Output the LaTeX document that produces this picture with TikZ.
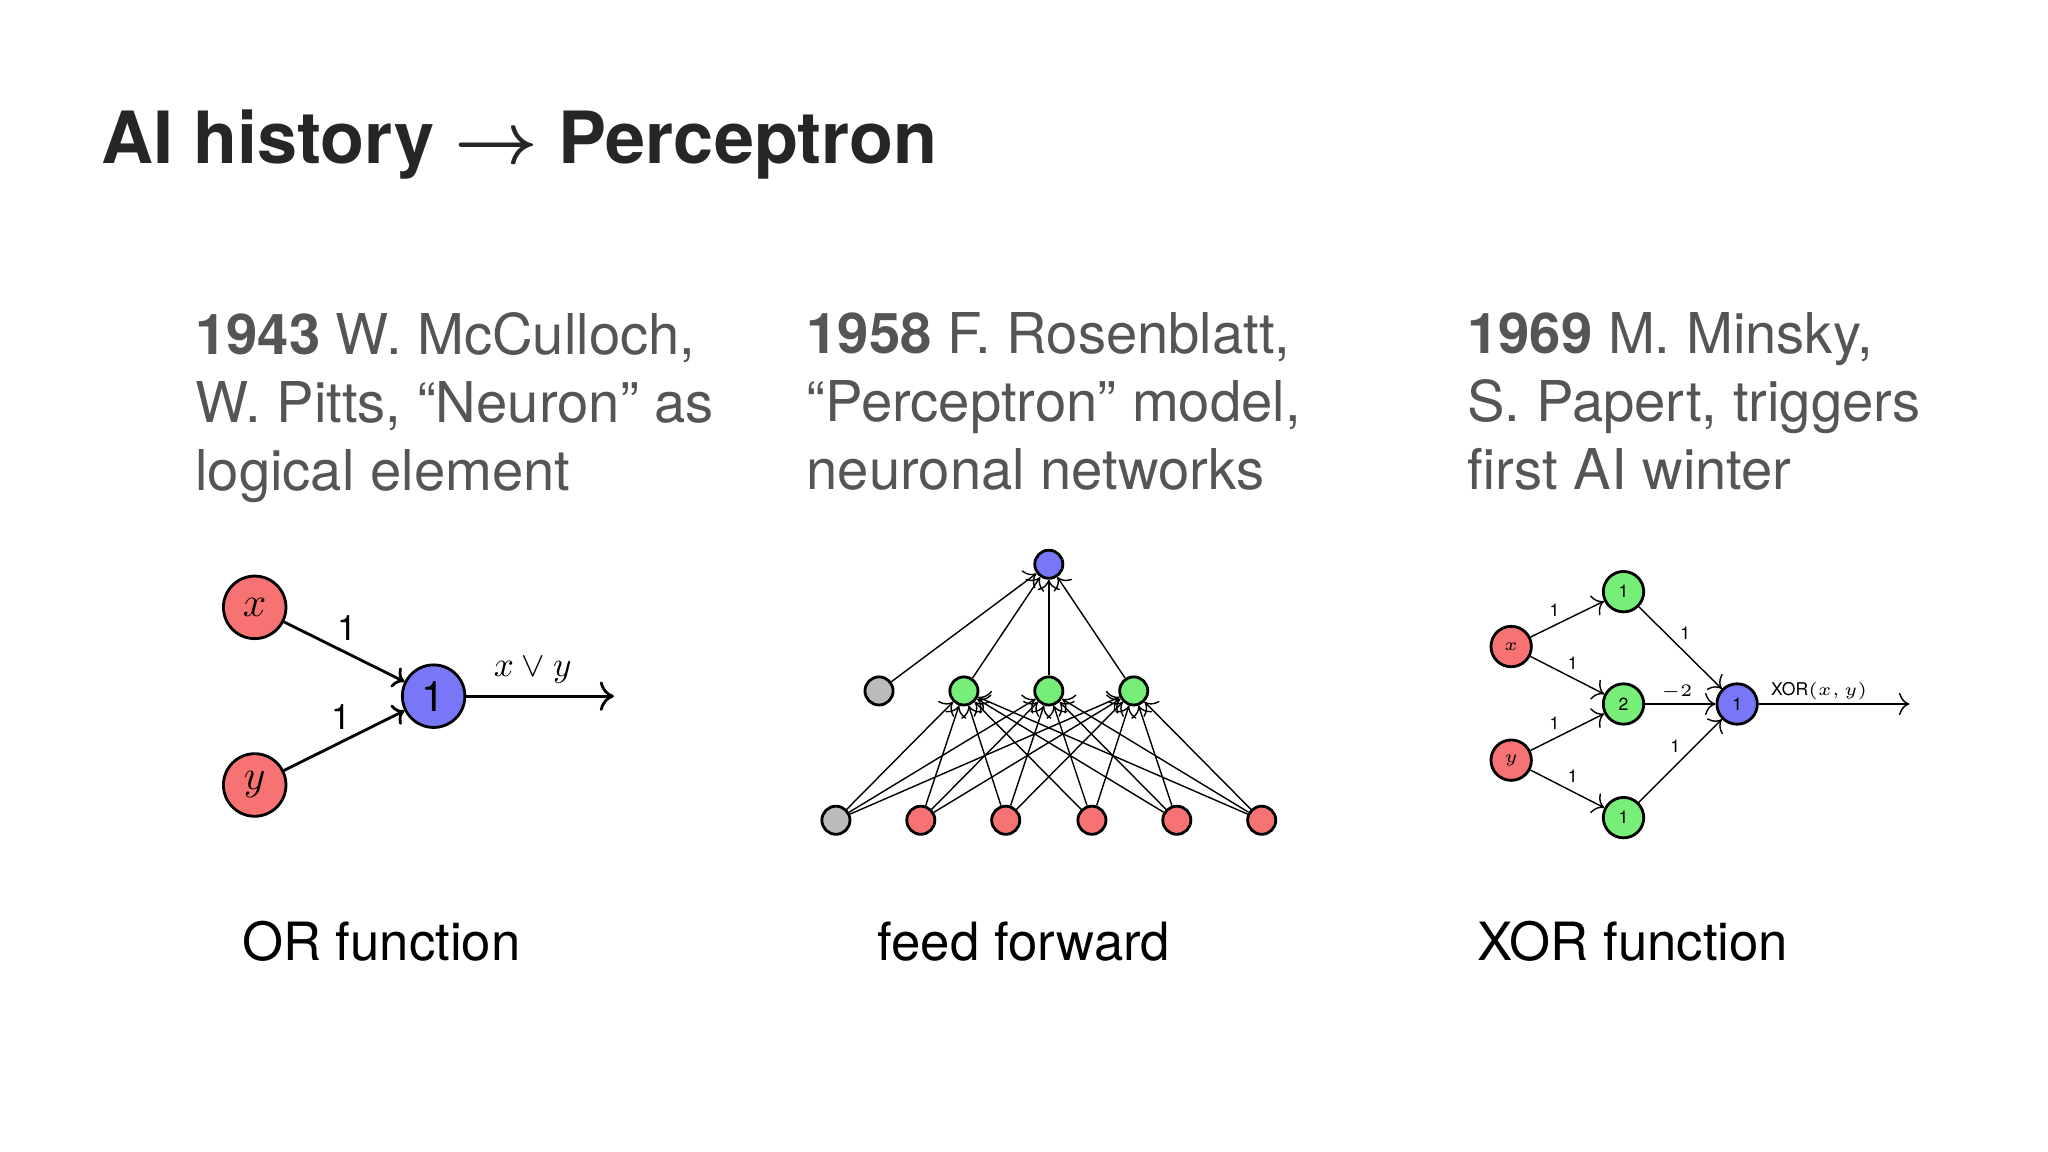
\documentclass[tikz,border=0pt]{standalone}
\usepackage{amsmath}
\usepackage{fontspec}
\setmainfont{TeX Gyre Heros}
\usetikzlibrary{arrows.meta}
\definecolor{nred}{HTML}{F77272}
\definecolor{ngreen}{HTML}{77EE77}
\definecolor{nblue}{HTML}{7777F7}
\definecolor{ngray}{HTML}{BBBBBB}
\definecolor{txt}{HTML}{555555}
\tikzset{
  neuron/.style={circle,draw,thick,inner sep=0pt,minimum size=#1},
  big/.style={neuron=17.8pt,font=\large},
  small/.style={neuron=8pt},
  mid/.style={neuron=11.5pt,font=\tiny},
  syn/.style={-{To[length=3pt]}},
  head/.style={anchor=north west,align=left,text=txt,font=\fontsize{16}{19.3}\selectfont},
  caption/.style={font=\fontsize{15}{18}\selectfont}
}
\begin{document}
\begin{tikzpicture}[x=0.01306cm,y=-0.01306cm]
        \useasboundingbox (0,0) rectangle (1568,882);
        \node[anchor=west,font=\fontsize{20.5}{24}\bfseries\selectfont,text=black!85] (title) at (68,111) {AI history {\boldmath$\rightarrow$} Perceptron};

        \node[head] (h1) at (140,230) {\textbf{1943} W. McCulloch,\\W. Pitts, “Neuron” as\\logical element};
        \node[head] (h2) at (608,230) {\textbf{1958} F. Rosenblatt,\\“Perceptron” model,\\neuronal networks};
        \node[head] (h3) at (1114,230) {\textbf{1969} M. Minsky,\\S. Papert, triggers\\first AI winter};

        % OR function
        \node[big,fill=nred] (ox) at (195,465) {$x$};
        \node[big,fill=nred] (oy) at (195,601) {$y$};
        \node[big,fill=nblue] (oo) at (332,533) {1};
        \coordinate (oend) at (470,533);
        \draw[thick,syn] (ox) -- node[above right,pos=0.4,inner sep=1pt] {1} (oo);
        \draw[thick,syn] (oy) -- node[above left,pos=0.6,inner sep=1pt] {1} (oo);
        \draw[thick,-{To[length=4pt]}] (oo) -- node[above,pos=0.45] {$x\vee y$} (oend);

        % feed forward
        \node[small,fill=nblue] (fo) at (803,432) {};
        \node[small,fill=ngray] (fb) at (673,529) {};
        \foreach \n/\x in {1/738,2/803,3/868}
            \node[small,fill=ngreen] (fh\n) at (\x,529) {};
        \node[small,fill=ngray] (fi0) at (640,628) {};
        \foreach \n/\x in {1/705,2/770,3/836,4/901,5/966}
            \node[small,fill=nred] (fi\n) at (\x,628) {};
        \draw[syn] (fb) -- (fo);
        \foreach \n in {1,2,3}
            \draw[syn] (fh\n) -- (fo);
        \foreach \i in {0,...,5}
            \foreach \n in {1,2,3}
                \draw[syn] (fi\i) -- (fh\n);

        % XOR function
        \node[mid,fill=nred] (xx) at (1157,495) {$x$};
        \node[mid,fill=nred] (xy) at (1157,582) {$y$};
        \node[mid,fill=ngreen] (xa) at (1243,453) {1};
        \node[mid,fill=ngreen] (xb) at (1243,539) {2};
        \node[mid,fill=ngreen] (xc) at (1243,626) {1};
        \node[mid,fill=nblue] (xo) at (1330,539) {1};
        \coordinate (xend) at (1462,539);
        \tikzset{w/.style={font=\tiny,inner sep=1pt}}
        \draw[syn] (xx) -- node[w,above left,pos=0.45] {1} (xa);
        \draw[syn] (xx) -- node[w,above right,pos=0.45] {1} (xb);
        \draw[syn] (xy) -- node[w,above left,pos=0.45] {1} (xb);
        \draw[syn] (xy) -- node[w,above right,pos=0.45] {1} (xc);
        \draw[syn] (xa) -- node[w,above right,pos=0.45] {1} (xo);
        \draw[syn] (xb) -- node[w,above,pos=0.45] {$-2$} (xo);
        \draw[syn] (xc) -- node[w,above left,pos=0.55] {1} (xo);
        \draw[-{To[length=3pt]}] (xo) -- node[w,above,pos=0.4] {XOR$(x,y)$} (xend);

        \node[caption] (c1) at (292,721) {OR function};
        \node[caption] (c2) at (784,721) {feed forward};
        \node[caption] (c3) at (1250,721) {XOR function};
    \end{tikzpicture}
\end{document}
